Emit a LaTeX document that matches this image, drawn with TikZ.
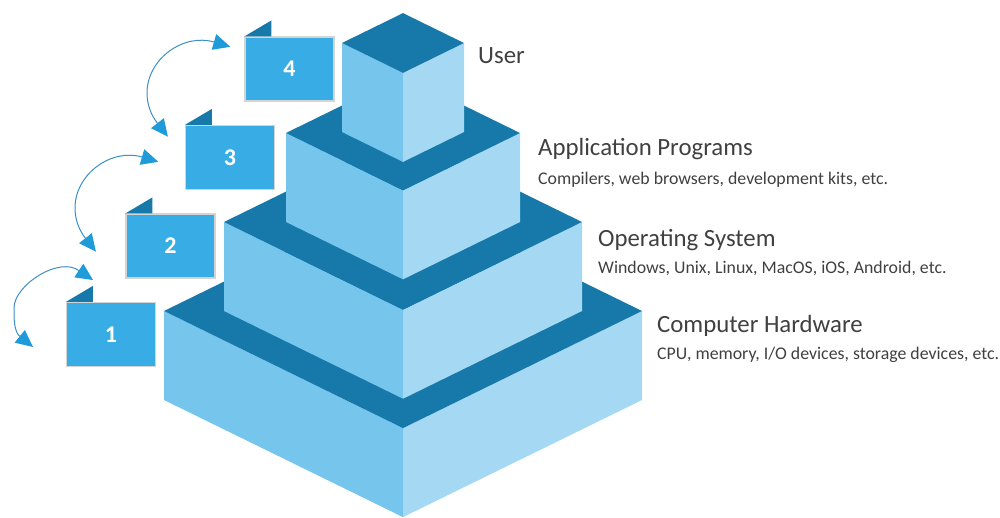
\documentclass[tikz,border=0pt]{standalone}
\usepackage{fontspec}
\setmainfont{Carlito}
\usetikzlibrary{arrows.meta,calc}

\definecolor{topblue}{HTML}{1679A9}
\definecolor{leftblue}{HTML}{75C5EC}
\definecolor{rightblue}{HTML}{A5D9F3}
\definecolor{boxblue}{HTML}{38ACE5}
\definecolor{linkblue}{HTML}{3A90C6}
\definecolor{headblue}{HTML}{1E9BD8}
\definecolor{textgray}{HTML}{404040}

% one isometric block of the pyramid: top-centre y, half width
\newcommand\pyrtier[2]{%
  \pgfmathsetmacro\pyL{403-#2}%
  \pgfmathsetmacro\pyR{403+#2}%
  \pgfmathsetmacro\pyF{#1+0.49*#2}%
  \pgfmathsetmacro\pyB{#1-0.49*#2}%
  \pgfmathsetmacro\pyS{#1+89}%
  \pgfmathsetmacro\pyG{\pyF+89}%
  \fill[leftblue] (\pyL,#1) -- (403,\pyF) -- (403,\pyG) -- (\pyL,\pyS) -- cycle;
  \fill[rightblue] (\pyR,#1) -- (403,\pyF) -- (403,\pyG) -- (\pyR,\pyS) -- cycle;
  \fill[topblue] (\pyL,#1) -- (403,\pyB) -- (\pyR,#1) -- (403,\pyF) -- cycle;
}

% curved two-headed link, drawn in local coordinates (shift with a scope)
\newcommand\looplink[1]{%
  \coordinate (lo#1) at (167.9,136.6);
  \coordinate (hi#1) at (230.3,46.8);
  \draw[link] (lo#1) -- (157.4,123.2)
    .. controls (150.7,114.6) and (147,103.9) .. (147,93)
    .. controls (147,59) and (183.3,33) .. (214,42) -- (hi#1);
}

\tikzset{
  stepnum/.style={fill=boxblue, draw=black!17, line width=1.2pt,
    minimum width=89pt, minimum height=64pt, inner sep=0pt, text=white,
    font=\bfseries\fontsize{24}{24}\selectfont},
  steptab/.style={fill=topblue},
  heading/.style={anchor=base west, inner sep=0pt, text=textgray,
    font=\fontsize{24.8}{30}\selectfont},
  subline/.style={anchor=base west, inner sep=0pt, text=textgray,
    font=\fontsize{17.8}{21}\selectfont},
  link/.style={linkblue, line width=1pt,
    {Triangle[length=17pt,width=16pt,color=headblue]}-{Triangle[length=17pt,width=16pt,color=headblue]}}
}

\begin{document}
\begin{tikzpicture}[x=1pt,y=-1pt]
\useasboundingbox (0,0) rectangle (1000,517);

% pyramid, bottom block first
\pyrtier{311}{239}
\pyrtier{222}{179}
\pyrtier{133}{117}
\pyrtier{43}{61}

% numbered steps
\node[stepnum] (b1) at (111,334.5) {1};
\node[stepnum] (b2) at (170.5,246) {2};
\node[stepnum] (b3) at (230,157.5) {3};
\node[stepnum] (b4) at (289.5,69) {4};
\foreach \b in {b1,b2,b3,b4}
  \fill[steptab] (\b.north west) -- ++(27,-16) -- ++(0,16) -- cycle;

% curved links between steps
\looplink{34}
\begin{scope}[shift={(-72,115)}]
  \looplink{23}
\end{scope}
\coordinate (lo12) at (33,347);
\coordinate (hi12) at (93,280);
\draw[link] (lo12) -- (20,336.5)
  .. controls (13.8,331.5) and (14,318) .. (14,308)
  .. controls (14,285) and (59.9,255.5) .. (79.5,271) -- (hi12);

% layer labels
\node[heading] (user) at (478,63) {User};
\node[heading] (app) at (538,155) {Application Programs};
\node[subline] (appsub) at (538,184) {Compilers, web browsers, development kits, etc.};
\node[heading] (os) at (598,246) {Operating System};
\node[subline] (ossub) at (598,273) {Windows, Unix, Linux, MacOS, iOS, Android, etc.};
\node[heading] (hw) at (657,332) {Computer Hardware};
\node[subline] (hwsub) at (657,359) {CPU, memory, I/O devices, storage devices, etc.};
\end{tikzpicture}
\end{document}
